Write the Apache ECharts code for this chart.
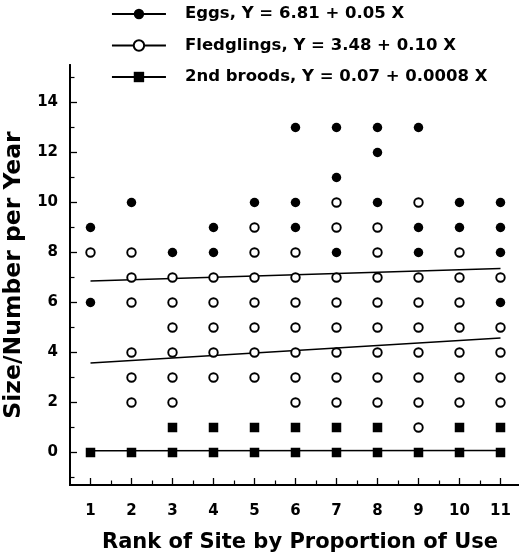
<!DOCTYPE html>
<html>
<head>
<meta charset="utf-8">
<script src="https://cdn.jsdelivr.net/npm/echarts@6/dist/echarts.min.js"></script>
<style>html,body{margin:0;padding:0;background:#fff;}#c{width:519px;height:557px;}</style>
</head>
<body>
<div id="c"></div>
<script>
// ---- data ----
const sites = [1, 2, 3, 4, 5, 6, 7, 8, 9, 10, 11];
const eggs = [
  [9, 6],          // 1
  [10],            // 2
  [8],             // 3
  [9, 8],          // 4
  [10],            // 5
  [13, 10, 9],     // 6
  [13, 11, 8],     // 7
  [13, 12, 10],    // 8
  [13, 9, 8],      // 9
  [10, 9],         // 10
  [10, 9, 8, 6]    // 11
];
const fledglings = [
  [8],
  [8, 7, 6, 4, 3, 2],
  [7, 6, 5, 4, 3, 2],
  [7, 6, 5, 4, 3],
  [9, 8, 7, 6, 5, 4, 3],
  [8, 7, 6, 5, 4, 3, 2],
  [10, 9, 7, 6, 5, 4, 3, 2],
  [9, 8, 7, 6, 5, 4, 3, 2],
  [10, 7, 6, 5, 4, 3, 2, 1],
  [8, 7, 6, 5, 4, 3, 2],
  [7, 5, 4, 3, 2]
];
const broods = [
  [0], [0], [1, 0], [1, 0], [1, 0], [1, 0], [1, 0], [1, 0], [0], [1, 0], [1, 0]
];
const fitX = [1, 11];
const eggsFitY = [6.86, 7.36];
const fledgFitY = [3.58, 4.58];
const broodFitY = [0.07, 0.08];
const legendNames = [
  'Eggs, Y = 6.81 + 0.05 X',
  'Fledglings, Y = 3.48 + 0.10 X',
  '2nd broods, Y = 0.07 + 0.0008 X'
];
const yMajor = [0, 2, 4, 6, 8, 10, 12, 14];
const yMinor = [-1, 1, 3, 5, 7, 9, 11, 13, 15];
const xMinor = [1.5, 2.5, 3.5, 4.5, 5.5, 6.5, 7.5, 8.5, 9.5, 10.5];
const xTitle = 'Rank of Site by Proportion of Use';
const yTitle = 'Size/Number per Year';

// ---- build ----
function pts(groups) {
  const out = [];
  groups.forEach((g, i) => g.forEach(v => out.push([sites[i], v])));
  return out;
}
function fit(ys) { return fitX.map((x, i) => [x, ys[i]]); }

const FONT = 'DejaVu Sans';
const axisLineStyle = { color: '#000', width: 2 };

const chart = echarts.init(document.getElementById('c'), null, { renderer: 'canvas' });
chart.setOption({
  animation: false,
  backgroundColor: '#fff',
  grid: { left: 70, right: -2, top: 65, bottom: 72, containLabel: false, outerBoundsMode: 'none' },
  legend: {
    data: legendNames,
    orient: 'vertical',
    left: 111, top: 4,
    padding: 0,
    itemWidth: 54, itemHeight: 13, itemGap: 11.5,
    selectedMode: false,
    lineStyle: { width: 1.9 },
    textStyle: { fontFamily: FONT, fontWeight: 'bold', fontSize: 16.5, color: '#000', lineHeight: 20, padding: [0, 0, 0, 14] }
  },
  xAxis: [{
    type: 'value', min: 0.5, max: 11.5, position: 'bottom',
    axisLine: { onZero: false, lineStyle: axisLineStyle },
    axisTick: { inside: true, length: 7, customValues: sites, lineStyle: { color: '#000', width: 1.3 } },
    axisLabel: { customValues: sites, fontFamily: FONT, fontWeight: 'bold', fontSize: 15, color: '#000', margin: 19 },
    splitLine: { show: false },
    name: xTitle, nameLocation: 'middle', nameGap: 47,
    nameTextStyle: { fontFamily: FONT, fontWeight: 'bold', fontSize: 21, color: '#000', padding: [0, 0, 0, 9] }
  }, {
    type: 'value', min: 0.5, max: 11.5, position: 'bottom',
    axisLine: { onZero: false, lineStyle: axisLineStyle },
    axisTick: { inside: true, length: 4.5, customValues: xMinor, lineStyle: { color: '#000', width: 1.2 } },
    axisLabel: { show: false },
    splitLine: { show: false }
  }],
  yAxis: [{
    type: 'value', min: -1.3, max: 15.5, position: 'left',
    axisLine: { show: true, onZero: false, lineStyle: axisLineStyle },
    axisTick: { show: true, inside: true, length: 7, customValues: yMajor, lineStyle: { color: '#000', width: 1.3 } },
    axisLabel: { customValues: yMajor, fontFamily: FONT, fontWeight: 'bold', fontSize: 15, color: '#000', margin: 12 },
    splitLine: { show: false },
    name: yTitle, nameLocation: 'middle', nameRotate: 90, nameGap: 39,
    nameTextStyle: { fontFamily: FONT, fontWeight: 'bold', fontSize: 23.5, color: '#000' }
  }, {
    type: 'value', min: -1.3, max: 15.5, position: 'left',
    axisLine: { show: true, onZero: false, lineStyle: axisLineStyle },
    axisTick: { show: true, inside: true, length: 4.5, customValues: yMinor, lineStyle: { color: '#000', width: 1.2 } },
    axisLabel: { show: false },
    splitLine: { show: false }
  }],
  series: [
    { name: legendNames[0], type: 'line', data: fit(eggsFitY), symbol: 'circle', showSymbol: false,
      lineStyle: { color: '#000', width: 1.3 }, itemStyle: { color: '#000', opacity: 1 }, z: 2, silent: true },
    { name: legendNames[1], type: 'line', data: fit(fledgFitY), symbol: 'emptyCircle', showSymbol: false,
      lineStyle: { color: '#000', width: 1.3 }, itemStyle: { color: '#000', opacity: 1 }, z: 2, silent: true },
    { name: legendNames[2], type: 'line', data: fit(broodFitY), symbol: 'rect', showSymbol: false,
      lineStyle: { color: '#000', width: 1.6 }, itemStyle: { color: '#000', opacity: 1 }, z: 2, silent: true },
    { name: 'eggsPts', type: 'scatter', data: pts(eggs), symbol: 'circle', symbolSize: 9.5,
      itemStyle: { color: '#000', opacity: 1 }, z: 3 },
    { name: 'fledgPts', type: 'scatter', data: pts(fledglings), symbol: 'circle', symbolSize: 8.5,
      itemStyle: { color: '#fff', borderColor: '#000', borderWidth: 1.9, opacity: 1 }, z: 3 },
    { name: 'broodPts', type: 'scatter', data: pts(broods), symbol: 'rect', symbolSize: 9.5,
      itemStyle: { color: '#000', opacity: 1 }, z: 3 }
  ]
});
</script>
</body>
</html>
